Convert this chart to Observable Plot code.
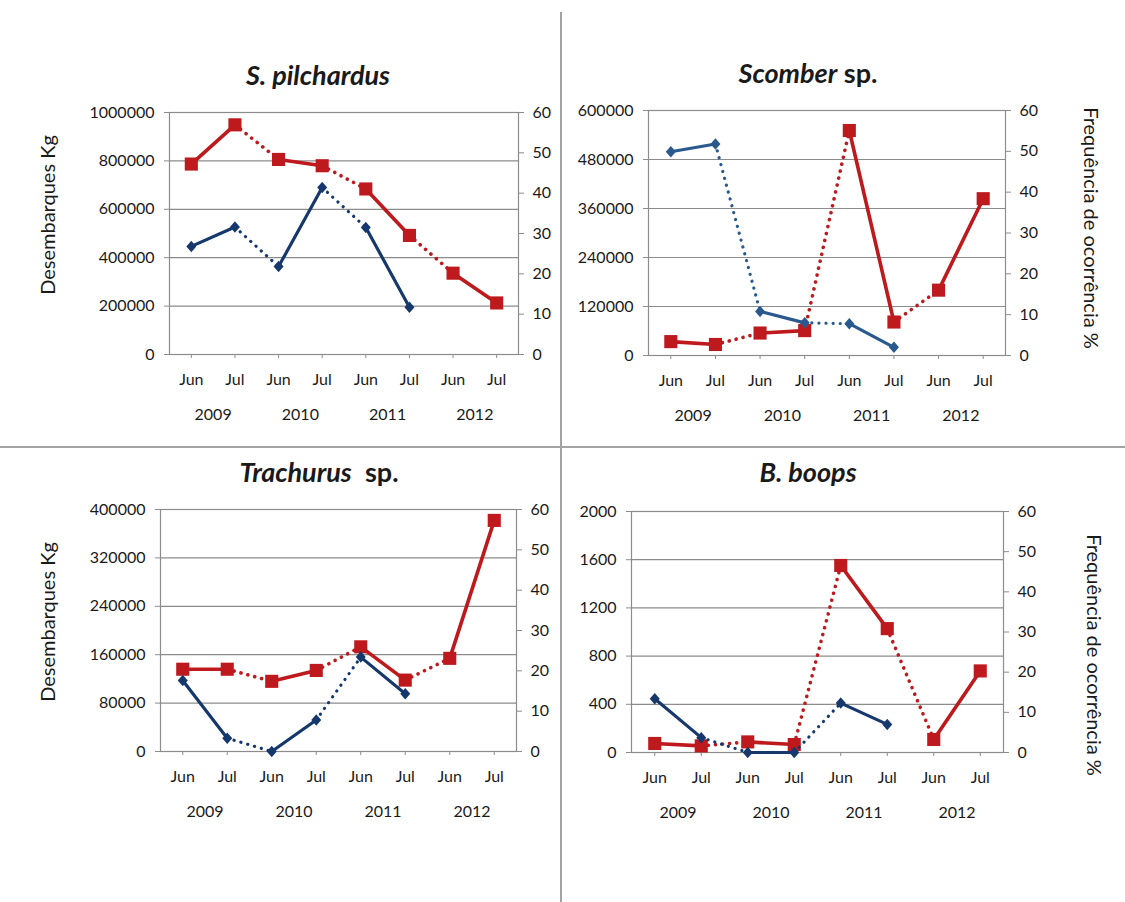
<!DOCTYPE html>
<html>
<head>
<meta charset="utf-8">
<script src="https://cdn.jsdelivr.net/npm/d3@7"></script>
<script src="https://cdn.jsdelivr.net/npm/@observablehq/plot@0.6"></script>
<style>
  body { margin: 0; background: #fff; }
  #page { position: relative; width: 1125px; height: 902px; overflow: hidden; background: #fff;
          font-family: Lato, "Open Sans", sans-serif; color: #1a1a1a; }
  .panel { position: absolute; }
  .title { position: absolute; transform: translate(-50%, -50%); font-weight: bold; font-size: 27px; white-space: nowrap; }
  .ytitle { position: absolute; transform: translate(-50%, -50%) rotate(-90deg); font-size: 20px; white-space: nowrap; }
  .ytitle.right { transform: translate(-50%, -50%) rotate(90deg); }
  .divider { position: absolute; background: #a3a3a3; }
</style>
</head>
<body>
<div id="page"></div>
<script>
// Sampling months and years (x axis)
const months = ["Jun", "Jul", "Jun", "Jul", "Jun", "Jul", "Jun", "Jul"];
const years = ["2009", "2010", "2011", "2012"];
const pctTicks = [0, 10, 20, 30, 40, 50, 60];

// Landings (kg), Jun 2009 … Jul 2012
const landingsPilchardus = [787000, 949000, 806000, 780000, 684000, 492000, 336000, 213000];
const landingsScomber    = [34000, 27000, 55000, 61000, 551000, 82000, 160000, 384000];
const landingsTrachurus  = [136000, 136000, 116000, 134000, 173000, 118000, 154000, 382000];
const landingsBoops      = [75, 55, 88, 66, 1552, 1028, 108, 677];

// Frequency of occurrence (%), Jun 2009 … Jul 2011
const freqPilchardus = [26.8, 31.6, 21.8, 41.4, 31.5, 11.7];
const freqScomber    = [49.9, 51.8, 10.8, 8.0, 7.8, 2.0];
const freqTrachurus  = [17.6, 3.3, 0, 7.8, 23.4, 14.3];
const freqBoops      = [13.4, 3.7, 0, 0, 12.3, 7.0];

const RED = "#BE1A1E";
const GRID = "#8c8c8c";
const INK = "#1a1a1a";

const diamond = {
  draw(ctx, size) {
    const r = Math.sqrt(size / Math.PI);
    ctx.moveTo(0, -r * 1.15);
    ctx.lineTo(r, 0);
    ctx.lineTo(0, r * 1.15);
    ctx.lineTo(-r, 0);
    ctx.closePath();
  }
};

function segments(pts) {
  // Jun→Jul within a year is solid; Jul→Jun across years is dotted
  return pts.slice(1).map((b, k) => ({
    x1: pts[k].i, y1: pts[k].v, x2: b.i, y2: b.v, dotted: pts[k].i % 2 === 1
  }));
}

function seriesMarks(pts, color, width, markerSymbol, r) {
  const segs = segments(pts);
  return [
    Plot.link(segs.filter(s => !s.dotted), {x1: "x1", y1: "y1", x2: "x2", y2: "y2",
      stroke: color, strokeWidth: width, strokeLinecap: "round"}),
    Plot.link(segs.filter(s => s.dotted), {x1: "x1", y1: "y1", x2: "x2", y2: "y2",
      stroke: color, strokeWidth: width, strokeDasharray: "0.1 7", strokeLinecap: "round"}),
    Plot.dot(pts, {x: "i", y: "v", symbol: markerSymbol, r, fill: color, stroke: "none"})
  ];
}

function panel({landings, freq, leftMax, leftStep, blue, left, top, width, height, m}) {
  const toLeft = p => p * leftMax / 60;
  const leftTicks = d3.range(0, leftMax + leftStep / 2, leftStep);
  const rightTicks = pctTicks.map(toLeft);
  const redPts = landings.map((v, i) => ({i, v}));
  const bluePts = freq.map((p, i) => ({i, v: toLeft(p)}));

  const chart = Plot.plot({
    width, height,
    marginLeft: m[0], marginRight: m[1], marginTop: m[2], marginBottom: m[3],
    style: {fontFamily: "Lato, 'Open Sans', sans-serif", fontSize: "16px", color: INK, background: "transparent", overflow: "visible"},
    x: {domain: [-0.5, months.length - 0.5]},
    y: {domain: [0, leftMax]},
    marks: [
      Plot.gridY(leftTicks, {stroke: GRID, strokeOpacity: 1, strokeWidth: 1.2}),
      Plot.frame({stroke: GRID, strokeWidth: 1.2}),
      Plot.axisY(leftTicks, {anchor: "left", tickSize: 5, tickPadding: 10, label: null,
        tickFormat: d => String(d), stroke: GRID, fill: INK}),
      Plot.axisY(rightTicks, {anchor: "right", tickSize: 5, tickPadding: 9, label: null,
        tickFormat: d => String(Math.round(d * 60 / leftMax)), stroke: GRID, fill: INK}),
      Plot.axisX(d3.range(months.length), {anchor: "bottom", tickSize: 4, tickPadding: 15, label: null,
        tickFormat: i => months[i], stroke: GRID, fill: INK}),
      Plot.text(years, {x: (d, k) => 2 * k + 0.5, frameAnchor: "bottom", dy: 60, lineAnchor: "middle",
        text: d => d, fill: INK}),
      ...seriesMarks(redPts, RED, 3.6, "square", 7.4),
      ...seriesMarks(bluePts, blue, 3.2, diamond, 5)
    ]
  });
  const div = document.createElement("div");
  div.className = "panel";
  div.style.left = left + "px";
  div.style.top = top + "px";
  div.appendChild(chart);
  document.getElementById("page").appendChild(div);
}

panel({landings: landingsPilchardus, freq: freqPilchardus, leftMax: 1000000, leftStep: 200000,
  blue: "#17386C", left: 0, top: 0, width: 561, height: 447, m: [169, 43, 112, 93]});
panel({landings: landingsScomber, freq: freqScomber, leftMax: 600000, leftStep: 120000,
  blue: "#2A5A8D", left: 561, top: 0, width: 564, height: 447, m: [87, 120, 110, 92]});
panel({landings: landingsTrachurus, freq: freqTrachurus, leftMax: 400000, leftStep: 80000,
  blue: "#15386C", left: 0, top: 447, width: 561, height: 455, m: [160, 45, 62, 151]});
panel({landings: landingsBoops, freq: freqBoops, leftMax: 2000, leftStep: 400,
  blue: "#17386C", left: 561, top: 447, width: 564, height: 455, m: [70, 122, 64, 150]});

// Titles and axis titles
const page = document.getElementById("page");
function label(cls, html, x, y) {
  const d = document.createElement("div");
  d.className = cls;
  d.innerHTML = html;
  d.style.left = x + "px";
  d.style.top = y + "px";
  page.appendChild(d);
}
label("title", "<i>S. pilchardus</i>", 318, 74);
label("title", "<i>Scomber</i> sp.", 808, 72);
label("title", "<i>Trachurus</i>&nbsp; sp.", 319, 471);
label("title", "<i>B. boops</i>", 808, 471);
label("ytitle", "Desembarques Kg", 47, 215);
label("ytitle", "Desembarques Kg", 47, 622);
label("ytitle right", "Frequência de ocorrência %", 1092, 228);
label("ytitle right", "Frequência de ocorrência %", 1095, 655);

// Panel dividers
function divider(x, y, w, h) {
  const d = document.createElement("div");
  d.className = "divider";
  Object.assign(d.style, {left: x + "px", top: y + "px", width: w + "px", height: h + "px"});
  page.appendChild(d);
}
divider(560, 12, 2, 890);
divider(0, 446, 1125, 2);
</script>
</body>
</html>
